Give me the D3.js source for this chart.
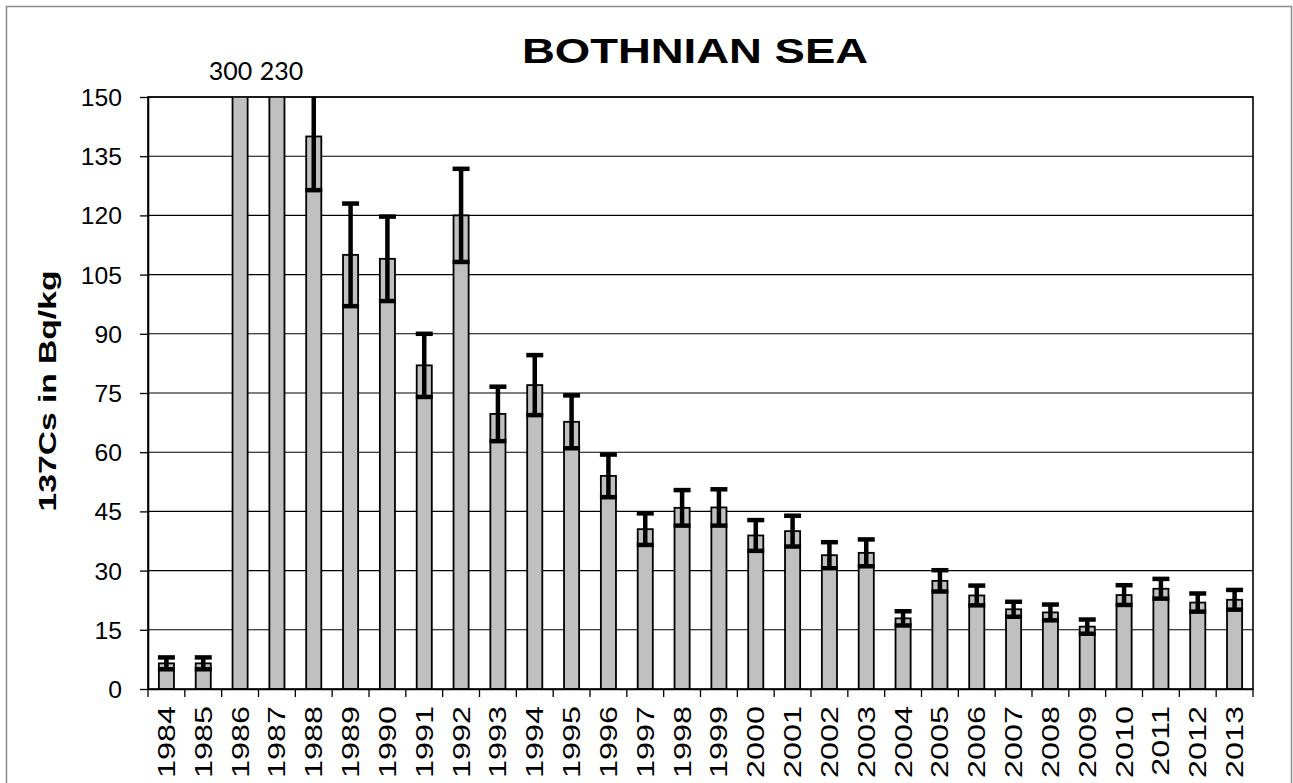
<!DOCTYPE html>
<html>
<head>
<meta charset="utf-8">
<script src="https://cdn.jsdelivr.net/npm/d3@7"></script>
<style>
  body { margin: 0; background: #fff; }
  svg { display: block; }
  text { font-family: "Liberation Sans", Arial, sans-serif; fill: #000; }
</style>
</head>
<body>
<svg id="chart" width="1293" height="783"></svg>
<script>
// 137Cs activity in Bothnian Sea samples, yearly means with uncertainty
const years = ["1984","1985","1986","1987","1988","1989","1990","1991","1992","1993",
               "1994","1995","1996","1997","1998","1999","2000","2001","2002","2003",
               "2004","2005","2006","2007","2008","2009","2010","2011","2012","2013"];
const values = [6.5, 6.5, 300, 230, 140, 110, 109, 82, 120, 69.7,
                77, 67.7, 54, 40.5, 45.9, 46, 38.9, 40, 33.9, 34.5,
                17.9, 27.4, 23.7, 20.2, 19.4, 15.8, 23.8, 25.4, 21.9, 22.6];
const errors = [1.5, 1.5, null, null, 13.6, 13, 10.7, 8, 11.8, 6.9,
                7.6, 6.7, 5.4, 4, 4.5, 4.6, 3.9, 3.9, 3.3, 3.4,
                1.8, 2.7, 2.5, 1.9, 2, 1.8, 2.5, 2.5, 2.3, 2.5];
const yTicks = [0, 15, 30, 45, 60, 75, 90, 105, 120, 135, 150];
const chartTitle = "BOTHNIAN SEA";
const yTitle = "137Cs in Bq/kg";

const data = years.map((yr, i) => ({ year: yr, value: values[i], err: errors[i] }));

const plot = { left: 148, right: 1253, top: 97, bottom: 689 };

const svg = d3.select("#chart");

// outer chart frame
svg.append("rect")
  .attr("x", 6.5).attr("y", 6.5)
  .attr("width", 1285).attr("height", 800)
  .attr("fill", "#fff").attr("stroke", "#8c8c8c").attr("stroke-width", 1.5);

const x = d3.scaleBand()
  .domain(years)
  .range([plot.left, plot.right])
  .paddingInner(0.59)
  .paddingOuter(0.295);

const y = d3.scaleLinear()
  .domain([0, 150])
  .range([plot.bottom, plot.top]);

// horizontal gridlines
svg.append("g")
  .selectAll("line")
  .data(yTicks.filter(d => d > 0))
  .join("line")
  .attr("x1", plot.left).attr("x2", plot.right)
  .attr("y1", d => y(d)).attr("y2", d => y(d))
  .attr("stroke", "#000").attr("stroke-width", 1.1);

svg.append("clipPath").attr("id", "plot-clip")
  .append("rect")
  .attr("x", plot.left).attr("y", plot.top)
  .attr("width", plot.right - plot.left).attr("height", plot.bottom - plot.top);

const inner = svg.append("g").attr("clip-path", "url(#plot-clip)");

// bars
inner.append("g")
  .selectAll("rect")
  .data(data)
  .join("rect")
  .attr("x", d => x(d.year))
  .attr("width", x.bandwidth())
  .attr("y", d => y(d.value))
  .attr("height", d => y(0) - y(d.value))
  .attr("fill", "#c0c0c0")
  .attr("stroke", "#000")
  .attr("stroke-width", 1.8);

// error bars
const capW = 17;
const eb = inner.append("g")
  .selectAll("g")
  .data(data.filter(d => d.err != null))
  .join("g")
  .attr("stroke", "#000")
  .attr("stroke-width", 4.5);
eb.append("line")
  .attr("x1", d => x(d.year) + x.bandwidth() / 2)
  .attr("x2", d => x(d.year) + x.bandwidth() / 2)
  .attr("y1", d => y(d.value - d.err))
  .attr("y2", d => y(d.value + d.err));
eb.append("line")
  .attr("x1", d => x(d.year) + x.bandwidth() / 2 - capW / 2)
  .attr("x2", d => x(d.year) + x.bandwidth() / 2 + capW / 2)
  .attr("y1", d => y(d.value + d.err))
  .attr("y2", d => y(d.value + d.err));
eb.append("line")
  .attr("x1", d => x(d.year) + x.bandwidth() / 2 - capW / 2)
  .attr("x2", d => x(d.year) + x.bandwidth() / 2 + capW / 2)
  .attr("y1", d => y(d.value - d.err))
  .attr("y2", d => y(d.value - d.err));

// plot area frame
svg.append("rect")
  .attr("x", plot.left).attr("y", plot.top)
  .attr("width", plot.right - plot.left).attr("height", plot.bottom - plot.top)
  .attr("fill", "none").attr("stroke", "#000").attr("stroke-width", 1.6);

// y axis
const yAxis = svg.append("g")
  .attr("transform", `translate(${plot.left},0)`)
  .call(d3.axisLeft(y).tickValues(yTicks).tickSize(8).tickSizeOuter(0));
yAxis.select(".domain").attr("stroke", "#000").attr("stroke-width", 1.6);
yAxis.selectAll(".tick line").attr("stroke", "#000").attr("stroke-width", 1.3);
yAxis.selectAll(".tick text")
  .attr("x", null).attr("dy", null)
  .attr("transform", "translate(-26,8.5) scale(1.05,1)")
  .attr("text-anchor", "end")
  .style("font-size", "23.5px")
  .style("font-family", "'Liberation Sans', Arial, sans-serif");

// x axis: labels under each band, tick marks on band boundaries
const xAxis = svg.append("g")
  .attr("transform", `translate(0,${plot.bottom})`)
  .call(d3.axisBottom(x).tickSize(0).tickSizeOuter(0));
xAxis.select(".domain").attr("stroke", "#000").attr("stroke-width", 1.6);
xAxis.selectAll(".tick text")
  .attr("y", null).attr("dy", null)
  .attr("transform", "translate(8.5,17) rotate(-90) scale(1.35,1)")
  .attr("text-anchor", "end")
  .style("font-size", "24px")
  .style("font-family", "'Liberation Sans', Arial, sans-serif");

const step = x.step();
const boundaries = d3.range(years.length + 1).map(i => plot.left + i * step);
svg.append("g")
  .selectAll("line")
  .data(boundaries)
  .join("line")
  .attr("x1", d => d).attr("x2", d => d)
  .attr("y1", plot.bottom).attr("y2", plot.bottom + 8)
  .attr("stroke", "#000").attr("stroke-width", 1.3);

// values of the bars that run off the top of the scale
const offScale = data.filter(d => d.value > 150);
const offDx = [-9.5, 4.5];
svg.append("g")
  .selectAll("text")
  .data(offScale)
  .join("text")
  .attr("x", (d, i) => x(d.year) + x.bandwidth() / 2 + offDx[i])
  .attr("y", 80)
  .attr("text-anchor", "middle")
  .style("font-family", "Lato, 'Open Sans', sans-serif")
  .style("font-size", "25px")
  .text(d => d.value);

// chart title
svg.append("text")
  .attr("transform", "translate(695,63) scale(1.3,1)")
  .attr("text-anchor", "middle")
  .style("font-size", "35px")
  .style("font-weight", "bold")
  .text(chartTitle);

// y axis title
svg.append("text")
  .attr("transform", "translate(56,391) rotate(-90) scale(1.4,1)")
  .attr("text-anchor", "middle")
  .style("font-size", "24px")
  .style("font-weight", "bold")
  .text(yTitle);
</script>
</body>
</html>
